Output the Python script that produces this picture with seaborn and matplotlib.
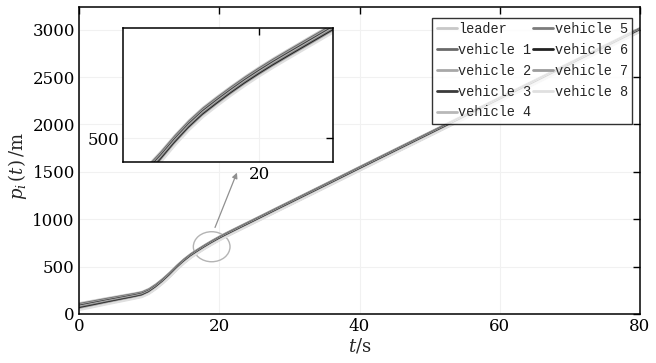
import numpy as np
import pandas as pd
import matplotlib
matplotlib.use("Agg")
import matplotlib.pyplot as plt
from matplotlib.patches import Ellipse
import seaborn as sns

# ---- data ----
times = [0, 2, 4, 6, 8, 9, 10, 11, 12, 13, 14, 15, 16, 17, 18, 19, 20, 21, 22,
         24, 26, 28, 30, 35, 40, 50, 60, 70, 80]
leader_pos = [113, 140, 167, 193, 219, 234, 266, 315, 374, 441, 514, 580, 637,
              685, 731, 775, 816, 855, 892, 965, 1038, 1112, 1185, 1368, 1552,
              1918, 2285, 2652, 3018]
spacing = [8.9, 8.5, 8.0, 7.5, 7.0, 6.8, 6.5, 6.2, 6.0, 5.8, 5.6, 5.4, 5.2, 5.1,
           5.0, 5.0, 5.0, 5.0, 5.0, 5.0, 5.0, 5.0, 5.0, 5.0, 5.0, 5.0, 5.0, 5.0, 5.0]
names = ["leader", "vehicle 1", "vehicle 2", "vehicle 3", "vehicle 4",
         "vehicle 5", "vehicle 6", "vehicle 7", "vehicle 8"]
colors = ["#c8c8c8", "#6a6a6a", "#a8a8a8", "#3a3a3a", "#b8b8b8",
          "#7c7c7c", "#222222", "#9c9c9c", "#e0e0e0"]
x_ticks = [0, 20, 40, 60, 80]
y_ticks = [0, 500, 1000, 1500, 2000, 2500, 3000]

rows = []
for k, nm in enumerate(names):
    for t, p, s in zip(times, leader_pos, spacing):
        rows.append({"t": t, "p": p - k * s, "who": nm})
df = pd.DataFrame(rows)

sns.set_style("white")
plt.rcParams["font.family"] = ["DejaVu Serif"]
plt.rcParams["mathtext.fontset"] = "dejavuserif"
palette = dict(zip(names, colors))

fig = plt.figure(figsize=(6.56, 3.63), dpi=100)
ax = fig.add_axes([79 / 656, 49 / 363, 561 / 656, 307 / 363])


def draw(a, legend):
    sns.lineplot(data=df, x="t", y="p", hue="who", hue_order=names,
                 palette=palette, estimator=None, sort=False, lw=1.6,
                 ax=a, legend=legend)
    a.grid(True, color="#f1f1f1", lw=0.8)
    a.set_axisbelow(True)
    for sp in a.spines.values():
        sp.set_color("black")
        sp.set_linewidth(1.1)
    a.tick_params(direction="in", length=5, width=1, top=True, right=True,
                  labelsize=12, colors="black", pad=3)


draw(ax, True)
ax.set_xlim(0, 80)
ax.set_ylim(0, 3240)
ax.set_xticks(x_ticks)
ax.set_yticks(y_ticks)
ax.set_xlabel(r"$t$/s", fontsize=13, labelpad=1)
ax.set_ylabel(r"$p_i\,(t)\,$/m", fontsize=13)
ax.yaxis.set_label_coords(-0.09, 0.48)

h, l = ax.get_legend_handles_labels()
leg = ax.legend(h, l, ncol=2, loc="upper right", bbox_to_anchor=(0.986, 0.965),
                prop={"family": "Liberation Mono", "size": 9.8},
                frameon=True, fancybox=False, edgecolor="black",
                handlelength=1.5, handletextpad=0.1, columnspacing=0.1,
                labelspacing=0.5, borderpad=0.32, borderaxespad=0.0)
leg.get_frame().set_linewidth(1.0)
for ln in leg.get_lines():
    ln.set_linewidth(2.0)

# highlight ellipse and arrow
ax.add_patch(Ellipse((18.92, 710), 5.23, 317, fill=False, edgecolor="#b4b4b4", lw=1.0))
ax.annotate("", xy=(22.67, 1519), xytext=(19.25, 886),
            arrowprops=dict(arrowstyle="-|>", color="#909090", lw=0.9,
                            mutation_scale=8))

# inset
axi = fig.add_axes([123.3 / 656, (363 - 161.7) / 363, 210 / 656, 133.4 / 363])
draw(axi, False)
axi.set_xlim(10.3, 25.27)
axi.set_ylim(395, 990)
axi.set_xticks([20])
axi.set_yticks([500])
axi.set_xlabel("")
axi.set_ylabel("")
axi.set_facecolor("white")

fig.savefig("out.png", dpi=100)
